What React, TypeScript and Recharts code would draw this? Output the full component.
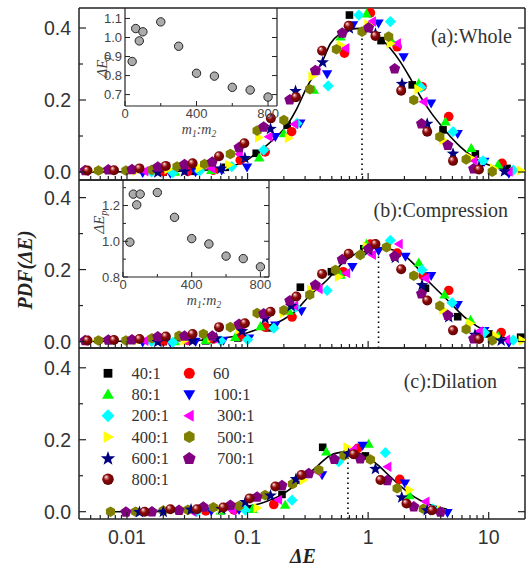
import React from 'react';
import { ComposedChart, Line, Scatter, XAxis, YAxis, ReferenceLine } from 'recharts';

type Pt = [number, number];

// series order follows the legend
const seriesNames = ['40:1', '60', '80:1', '100:1', '200:1', '300:1', '400:1', '500:1', '600:1', '700:1', '800:1'];
const seriesColors = ['#000000', '#ff0000', '#00ff00', '#0000ff', '#00ffff', '#ff00ff', '#ffff00', '#808000', '#000080', '#800080', '#800000'];
const seriesShapes = ['square', 'circle', 'up', 'down', 'diamond', 'left', 'right', 'hexagon', 'star', 'pentagon', 'sphere'];

// axis ticks
const xTicks = [
  0.005, 0.006, 0.007, 0.008, 0.009, 0.01, 0.02, 0.03, 0.04, 0.05, 0.06, 0.07, 0.08, 0.09,
  0.1, 0.2, 0.3, 0.4, 0.5, 0.6, 0.7, 0.8, 0.9, 1, 2, 3, 4, 5, 6, 7, 8, 9, 10,
];
const xMajor = [0.01, 0.1, 1, 10];
const yTicks = [0, 0.1, 0.2, 0.3, 0.4];
const yMajor = [0, 0.2, 0.4];

// (a) Whole
const whole40: Pt[] = [[0.02, 0.0], [0.036, 0.002], [0.0655, 0.013], [0.118, 0.052], [0.213, 0.13], [0.7, 0.436], [1.28, 0.365], [2.32, 0.242], [4.18, 0.117], [7.75, 0.05], [14.2, 0.01]];
const whole60: Pt[] = [[0.02, 0.001], [0.032, 0.002], [0.052, 0.005], [0.087, 0.033], [0.14, 0.056], [0.232, 0.112], [0.636, 0.33], [1.045, 0.442], [1.74, 0.348], [2.8, 0.237], [4.66, 0.154], [12.9, 0.024]];
const whole80: Pt[] = [[0.025, 0.0], [0.05, 0.005], [0.125, 0.04], [0.2, 0.107], [0.354, 0.228], [0.59, 0.376], [0.97, 0.44], [1.58, 0.362], [2.63, 0.246], [4.38, 0.14], [7.16, 0.066], [12, 0.02]];
const whole100: Pt[] = [[0.0135, -0.002], [0.0229, -0.004], [0.037, 0.0], [0.061, 0.005], [0.099, 0.013], [0.17, 0.098], [0.274, 0.135], [0.457, 0.272], [0.75, 0.408], [1.22, 0.413], [1.97, 0.319], [3.33, 0.191], [5.53, 0.106], [9.2, 0.029], [14.7, -0.004]];
const whole200: Pt[] = [[0.016, 0.0], [0.024, -0.002], [0.04, 0.003], [0.074, 0.015], [0.136, 0.061], [0.257, 0.135], [0.466, 0.239], [0.836, 0.436], [1.53, 0.418], [2.75, 0.235], [5.06, 0.112], [8.98, 0.031], [16, 0.005]];
const whole300: Pt[] = [[0.0045, 0.003], [0.014, 0.002], [0.03, 0.004], [0.05, 0.01], [0.085, 0.05], [0.15, 0.098], [0.245, 0.133], [0.373, 0.283], [0.65, 0.344], [1.08, 0.418], [1.74, 0.357], [2.89, 0.195], [7.5, 0.033], [14.7, 0.001]];
const whole400: Pt[] = [[0.0048, 0.003], [0.012, 0.003], [0.022, 0.008], [0.04, 0.012], [0.07, 0.02], [0.124, 0.096], [0.219, 0.094], [0.343, 0.265], [0.59, 0.353], [1.0, 0.41], [1.53, 0.357], [2.6, 0.23], [4.18, 0.089], [7, 0.04], [11, 0.01], [18.4, 0.004]];
const whole500: Pt[] = [[0.0058, 0.004], [0.0098, 0.004], [0.0161, 0.006], [0.026, 0.015], [0.044, 0.022], [0.072, 0.05], [0.12, 0.115], [0.2, 0.144], [0.328, 0.23], [0.546, 0.341], [0.89, 0.39], [1.48, 0.376], [2.39, 0.2], [3.93, 0.098], [6.5, 0.035], [10.7, 0.001]];
const whole600: Pt[] = [[0.018, 0.0], [0.03, 0.003], [0.06, 0.01], [0.095, 0.04], [0.155, 0.121], [0.25, 0.226], [0.42, 0.306], [0.7, 0.4], [1.15, 0.385], [1.91, 0.246], [3.09, 0.135], [5.06, 0.052], [8.3, 0.015], [13.5, 0.003]];
const whole700: Pt[] = [[0.0045, 0.005], [0.007, 0.007], [0.011, 0.008], [0.018, 0.015], [0.03, 0.022], [0.051, 0.029], [0.085, 0.069], [0.136, 0.126], [0.224, 0.202], [0.365, 0.283], [0.61, 0.387], [1.01, 0.402], [1.66, 0.288], [2.77, 0.135], [4.58, 0.075], [7.5, 0.01]];
const whole800: Pt[] = [[0.0047, 0.004], [0.0078, 0.005], [0.0127, 0.01], [0.021, 0.017], [0.035, 0.024], [0.058, 0.044], [0.094, 0.08], [0.156, 0.149], [0.252, 0.208], [0.415, 0.337], [0.69, 0.406], [1.15, 0.378], [1.88, 0.226], [3.09, 0.112], [5.06, 0.031], [8.3, 0.007]];
const wholeFit: Pt[] = [[0.004, 0.0], [0.0156, 0.001], [0.04, 0.004], [0.0676, 0.013], [0.099, 0.033], [0.118, 0.052], [0.145, 0.075], [0.176, 0.1], [0.213, 0.131], [0.257, 0.177], [0.312, 0.237], [0.377, 0.283], [0.415, 0.306], [0.487, 0.357], [0.589, 0.385], [0.713, 0.397], [0.863, 0.399], [1.045, 0.392], [1.265, 0.371], [1.53, 0.343], [1.85, 0.306], [2.24, 0.26], [2.72, 0.209], [3.29, 0.167], [3.98, 0.131], [4.82, 0.098], [5.83, 0.07], [7.06, 0.047], [8.55, 0.029], [10.35, 0.018], [12.5, 0.01], [18.4, 0.004]];
const wholePeak: Pt = [0.89, 0.398];

// (b) Compression
const comp40: Pt[] = [[0.02, 0.0], [0.045, 0.002], [0.083, 0.01], [0.15, 0.038], [0.274, 0.151], [0.496, 0.194], [0.92, 0.258], [2.99, 0.148], [5.53, 0.069], [10.05, 0.021], [18.4, 0.012]];
const comp60: Pt[] = [[0.02, 0.001], [0.032, 0.003], [0.052, 0.007], [0.088, 0.015], [0.14, 0.04], [0.234, 0.068], [0.62, 0.194], [1.045, 0.271], [1.74, 0.246], [2.86, 0.183], [4.66, 0.142], [12.7, 0.025]];
const comp80: Pt[] = [[0.025, 0.0], [0.045, 0.004], [0.079, 0.012], [0.128, 0.042], [0.22, 0.085], [0.59, 0.185], [0.97, 0.271], [2.63, 0.219], [4.3, 0.13], [7.06, 0.06], [12, 0.015]];
const comp100: Pt[] = [[0.0135, -0.002], [0.0229, -0.003], [0.037, 0.0], [0.063, 0.003], [0.103, 0.009], [0.17, 0.045], [0.28, 0.085], [0.74, 0.208], [1.22, 0.252], [2.04, 0.236], [3.33, 0.183], [5.53, 0.102], [9.2, 0.03], [14.7, -0.004]];
const comp200: Pt[] = [[0.016, 0.0], [0.024, -0.002], [0.06, 0.002], [0.1, 0.005], [0.165, 0.037], [0.25, 0.095], [0.457, 0.142], [0.86, 0.241], [1.53, 0.281], [2.8, 0.199], [4.97, 0.108], [9.2, 0.025], [16, 0.004]];
const comp300: Pt[] = [[0.0045, 0.003], [0.014, 0.002], [0.03, 0.004], [0.052, 0.009], [0.089, 0.033], [0.14, 0.074], [0.245, 0.099], [0.39, 0.146], [0.66, 0.19], [1.08, 0.241], [1.8, 0.271], [2.99, 0.176], [8.3, 0.028], [14, 0.005]];
const comp400: Pt[] = [[0.0048, 0.002], [0.012, 0.003], [0.03, 0.003], [0.05, 0.01], [0.085, 0.033], [0.2, 0.08], [0.335, 0.144], [0.57, 0.18], [0.97, 0.264], [4.18, 0.088], [7, 0.05], [11.5, 0.015], [19, 0.003]];
const comp500: Pt[] = [[0.0058, 0.003], [0.0098, 0.003], [0.0161, 0.009], [0.027, 0.016], [0.043, 0.021], [0.072, 0.04], [0.12, 0.079], [0.2, 0.087], [0.328, 0.13], [0.536, 0.199], [0.86, 0.241], [1.42, 0.262], [2.39, 0.183], [3.93, 0.099], [6.5, 0.034], [10.7, 0.003]];
const comp600: Pt[] = [[0.018, 0.0], [0.035, 0.003], [0.055, 0.01], [0.09, 0.03], [0.14, 0.065], [0.23, 0.1], [1.01, 0.255], [1.68, 0.234], [2.8, 0.158], [4.66, 0.069], [7.7, 0.02], [12.7, 0.004]];
const comp700: Pt[] = [[0.0045, 0.004], [0.007, 0.005], [0.011, 0.006], [0.018, 0.014], [0.03, 0.016], [0.051, 0.016], [0.085, 0.049], [0.136, 0.078], [0.224, 0.114], [0.365, 0.158], [0.61, 0.229], [1.01, 0.259], [1.66, 0.238], [2.77, 0.134], [4.58, 0.074], [7.5, 0.009]];
const comp800: Pt[] = [[0.0047, 0.003], [0.0078, 0.004], [0.0127, 0.007], [0.021, 0.014], [0.035, 0.021], [0.058, 0.04], [0.095, 0.051], [0.155, 0.083], [0.254, 0.125], [0.415, 0.188], [0.69, 0.244], [1.15, 0.271], [1.88, 0.201], [3.09, 0.114], [5.06, 0.031], [8.3, 0.007]];
const compFit: Pt[] = [[0.004, 0.0], [0.03, 0.002], [0.0767, 0.014], [0.128, 0.037], [0.2, 0.062], [0.241, 0.08], [0.332, 0.13], [0.457, 0.171], [0.6, 0.215], [0.76, 0.241], [0.95, 0.256], [1.19, 0.261], [1.5, 0.257], [1.85, 0.247], [2.4, 0.215], [3.09, 0.171], [3.85, 0.139], [4.82, 0.107], [6.2, 0.07], [8.03, 0.042], [11, 0.02], [14, 0.01], [18.4, 0.005]];
const compPeak: Pt = [1.22, 0.262];

// (c) Dilation
const dil40: Pt[] = [[0.06, 0.003], [0.105, 0.008], [0.193, 0.048], [0.42, 0.179], [0.95, 0.155]];
const dil60: Pt[] = [[0.045, 0.002], [0.077, 0.005], [0.165, 0.02], [0.82, 0.176], [1.83, 0.09]];
const dil80: Pt[] = [[0.06, 0.003], [0.11, 0.007], [0.205, 0.019], [0.45, 0.167], [1.01, 0.188], [2.2, 0.045]];
const dil100: Pt[] = [[0.05, 0.002], [0.085, 0.005], [0.415, 0.102], [0.9, 0.184], [2.02, 0.079], [4.55, -0.003]];
const dil200: Pt[] = [[0.038, 0.0], [0.096, 0.004], [0.234, 0.032], [0.57, 0.139], [1.39, 0.164], [3.45, 0.008]];
const dil300: Pt[] = [[0.035, 0.0], [0.075, 0.003], [0.18, 0.033], [0.38, 0.111], [0.75, 0.173], [1.45, 0.125], [3.0, 0.028]];
const dil400: Pt[] = [[0.03, 0.003], [0.06, 0.005], [0.12, 0.01], [0.29, 0.088], [0.67, 0.179], [2.2, 0.06], [4.0, 0.005]];
const dil500: Pt[] = [[0.0073, 0.0], [0.0118, 0.0], [0.02, 0.003], [0.032, 0.005], [0.052, 0.012], [0.085, 0.016], [0.14, 0.046], [0.236, 0.077], [0.39, 0.116], [0.63, 0.156], [1.045, 0.145], [1.74, 0.065], [2.87, 0.008]];
const dil600: Pt[] = [[0.0127, 0.0], [0.02, 0.001], [0.034, 0.007], [0.061, 0.009], [0.096, 0.028], [0.155, 0.046], [0.252, 0.092], [0.69, 0.162], [1.15, 0.12], [1.9, 0.041], [3.09, 0.005]];
const dil700: Pt[] = [[0.0098, 0.0], [0.0161, 0.001], [0.027, 0.005], [0.043, 0.014], [0.072, 0.019], [0.12, 0.042], [0.193, 0.074], [0.322, 0.107], [0.525, 0.147], [0.86, 0.148], [1.44, 0.088], [2.39, 0.015], [3.98, 0.0]];
const dil800: Pt[] = [[0.014, 0.0], [0.0229, 0.007], [0.038, 0.007], [0.063, 0.012], [0.104, 0.037], [0.17, 0.07], [0.28, 0.102], [0.76, 0.16], [1.265, 0.088], [2.08, 0.023], [3.39, 0.004]];
const dilFit: Pt[] = [[0.0075, 0.0], [0.03, 0.001], [0.056, 0.005], [0.09, 0.012], [0.128, 0.023], [0.2, 0.051], [0.292, 0.093], [0.38, 0.127], [0.487, 0.157], [0.59, 0.165], [0.69, 0.167], [0.83, 0.163], [0.98, 0.153], [1.2, 0.13], [1.53, 0.097], [1.9, 0.068], [2.39, 0.042], [3.28, 0.019], [4.52, 0.007]];
const dilPeak: Pt = [0.68, 0.167];

// insets: peak position vs mass ratio
const ratio = [40, 60, 80, 100, 200, 300, 400, 500, 600, 700, 800];
const peakWhole = [0.874, 1.047, 0.982, 1.03, 1.082, 0.954, 0.812, 0.797, 0.738, 0.724, 0.687];
const peakComp = [0.995, 1.264, 1.204, 1.264, 1.273, 1.134, 1.015, 0.985, 0.917, 0.903, 0.857];
const insetXTicks = [0, 200, 400, 600, 800];
const insetXLabels = [0, 400, 800];
const insetWholeYTicks = [0.7, 0.8, 0.9, 1.0, 1.1];
const insetCompYTicks = [0.8, 0.9, 1.0, 1.1, 1.2, 1.3];
const insetCompYLabels = [0.8, 1.0, 1.2];

const SANS = '"Liberation Sans", Arial, sans-serif';
const SERIF = '"Liberation Serif", "Times New Roman", serif';
const frame = { stroke: '#222', strokeWidth: 1.5 };
const thin = { stroke: '#222', strokeWidth: 1.2 };

function poly(cx: number, cy: number, r: number, n: number, rot: number) {
  const pts: string[] = [];
  for (let i = 0; i < n; i++) {
    const a = rot + (i * 2 * Math.PI) / n;
    pts.push(`${cx + r * Math.cos(a)},${cy + r * Math.sin(a)}`);
  }
  return pts.join(' ');
}

function starPts(cx: number, cy: number, ro: number, ri: number) {
  const pts: string[] = [];
  for (let i = 0; i < 10; i++) {
    const a = -Math.PI / 2 + (i * Math.PI) / 5;
    const r = i % 2 === 0 ? ro : ri;
    pts.push(`${cx + r * Math.cos(a)},${cy + r * Math.sin(a)}`);
  }
  return pts.join(' ');
}

function Marker({ shape, color, cx, cy, k = 1 }: any) {
  if (cx == null || cy == null) return null;
  switch (shape) {
    case 'square':
      return <rect x={cx - 3.8 * k} y={cy - 3.8 * k} width={7.6 * k} height={7.6 * k} fill={color} />;
    case 'circle':
      return <circle cx={cx} cy={cy} r={4.8 * k} fill={color} />;
    case 'up':
      return <polygon points={poly(cx, cy + 0.8 * k, 6 * k, 3, -Math.PI / 2)} fill={color} />;
    case 'down':
      return <polygon points={poly(cx, cy - 0.8 * k, 6 * k, 3, Math.PI / 2)} fill={color} />;
    case 'left':
      return <polygon points={poly(cx + 0.8 * k, cy, 6 * k, 3, Math.PI)} fill={color} />;
    case 'right':
      return <polygon points={poly(cx - 0.8 * k, cy, 6 * k, 3, 0)} fill={color} />;
    case 'diamond':
      return <polygon points={poly(cx, cy, 5.6 * k, 4, -Math.PI / 2)} fill={color} />;
    case 'hexagon':
      return <polygon points={poly(cx, cy, 5.3 * k, 6, -Math.PI / 2)} fill={color} />;
    case 'pentagon':
      return <polygon points={poly(cx, cy + 0.4 * k, 5.8 * k, 5, -Math.PI / 2)} fill={color} />;
    case 'star':
      return <polygon points={starPts(cx, cy + 0.5 * k, 6.6 * k, 2.7 * k)} fill={color} />;
    case 'sphere':
      return <circle cx={cx} cy={cy} r={5 * k} fill="url(#ballGrad)" />;
    default:
      return null;
  }
}

const XTick = ({ x, y, payload, showLabel }: any) => {
  const v = payload.value;
  const major = xMajor.includes(v);
  return (
    <g>
      <line x1={x} x2={x} y1={y} y2={y - (major ? 7 : 4)} stroke="#222" strokeWidth={1.2} />
      {showLabel && major && (
        <text x={x} y={y + 24.5} textAnchor="middle" fontSize={19.5} fontFamily={SANS} fill="#333">
          {String(v)}
        </text>
      )}
    </g>
  );
};

const YTickL = ({ x, y, payload }: any) => {
  const v = payload.value;
  const major = yMajor.includes(v);
  return (
    <g>
      <line x1={x} x2={x + (major ? 7 : 4)} y1={y} y2={y} stroke="#222" strokeWidth={1.2} />
      {major && (
        <text x={x - 8} y={y} dy="0.36em" textAnchor="end" fontSize={19.5} fontFamily={SANS} fill="#333">
          {v.toFixed(1)}
        </text>
      )}
    </g>
  );
};

const YTickR = ({ x, y, payload }: any) => {
  const major = yMajor.includes(payload.value);
  return <line x1={x} x2={x - (major ? 7 : 4)} y1={y} y2={y} stroke="#222" strokeWidth={1.2} />;
};

// plot area: x 79..525; axes take 1px each, so margins are one less
function Panel({ top, height, mt, mb, yDomain, sets, fit, peak, showX, children }: any) {
  const fitData = fit.map(([x, y]: Pt) => ({ x, y }));
  const peakData = [{ x: peak[0], y: yDomain[0] }, { x: peak[0], y: peak[1] }];
  return (
    <div style={{ position: 'absolute', left: 0, top }}>
      <ComposedChart width={527} height={height} margin={{ top: mt, right: 1, bottom: mb - 1, left: 78 }}>
        <XAxis dataKey="x" type="number" scale="log" domain={[0.004, 20]} allowDataOverflow ticks={xTicks} interval={0}
          height={1} tickSize={0} tickMargin={0} tickLine={false} axisLine={frame}
          tick={(p: any) => <XTick {...p} showLabel={showX} />} />
        <YAxis dataKey="y" type="number" domain={yDomain} allowDataOverflow ticks={yTicks} interval={0}
          width={1} tickSize={0} tickMargin={0} tickLine={false} axisLine={frame}
          tick={(p: any) => <YTickL {...p} />} />
        <YAxis yAxisId="r" orientation="right" type="number" domain={yDomain} allowDataOverflow ticks={yTicks} interval={0}
          width={1} tickSize={0} tickMargin={0} tickLine={false} axisLine={frame}
          tick={(p: any) => <YTickR {...p} />} />
        <ReferenceLine y={yDomain[1]} stroke="#222" strokeWidth={1.5} />
        {sets.map((s: Pt[], i: number) => (
          <Scatter key={seriesNames[i]} name={seriesNames[i]} data={s.map(([x, y]) => ({ x, y }))} fill={seriesColors[i]}
            isAnimationActive={false}
            shape={(p: any) => <Marker shape={seriesShapes[i]} color={seriesColors[i]} cx={p.cx} cy={p.cy} />} />
        ))}
        <Line data={fitData} dataKey="y" type="monotone" stroke="#000" strokeWidth={1.6} dot={false} activeDot={false} isAnimationActive={false} />
        <Line data={peakData} dataKey="y" type="linear" stroke="#000" strokeWidth={1.6} strokeDasharray="1.6 3.4" dot={false} activeDot={false} isAnimationActive={false} />
        {children}
      </ComposedChart>
    </div>
  );
}

function Inset({ left, top, width, height, margin, yDomain, yTicksIn, yLabels, peaks, yl, ml }: any) {
  const data = ratio.map((r, i) => ({ x: r, y: peaks[i] }));
  return (
    <div style={{ position: 'absolute', left, top }}>
      <ComposedChart width={width} height={height} margin={margin}>
        <XAxis dataKey="x" type="number" domain={[0, 850]} allowDataOverflow ticks={insetXTicks} interval={0}
          height={1} tickSize={0} tickMargin={0} tickLine={false} axisLine={thin}
          tick={({ x, y, payload }: any) => {
            const major = insetXLabels.includes(payload.value);
            return (
              <g>
                <line x1={x} x2={x} y1={y} y2={y - (major ? 5 : 3)} stroke="#222" strokeWidth={1} />
                {major && (
                  <text x={x} y={y + 12} textAnchor="middle" fontSize={13} fontFamily={SANS} fill="#444">{payload.value}</text>
                )}
              </g>
            );
          }} />
        <YAxis dataKey="y" type="number" domain={yDomain} allowDataOverflow ticks={yTicksIn} interval={0}
          width={1} tickSize={0} tickMargin={0} tickLine={false} axisLine={thin}
          tick={({ x, y, payload }: any) => {
            const major = yLabels.includes(payload.value);
            return (
              <g>
                <line x1={x} x2={x + (major ? 5 : 3)} y1={y} y2={y} stroke="#222" strokeWidth={1} />
                {major && (
                  <text x={x - 3} y={y} dy="0.36em" textAnchor="end" fontSize={13} fontFamily={SANS} fill="#444">{payload.value.toFixed(1)}</text>
                )}
              </g>
            );
          }} />
        <YAxis yAxisId="r" orientation="right" type="number" domain={yDomain} allowDataOverflow ticks={yTicksIn} interval={0}
          width={1} tickSize={0} tickMargin={0} tickLine={false} axisLine={thin}
          tick={({ x, y, payload }: any) => (
            <line x1={x} x2={x - (yLabels.includes(payload.value) ? 5 : 3)} y1={y} y2={y} stroke="#222" strokeWidth={1} />
          )} />
        <Scatter data={data} isAnimationActive={false}
          shape={(p: any) => <circle cx={p.cx} cy={p.cy} r={4.2} fill="#ababab" stroke="#222" strokeWidth={1} />} />
        <text transform={`rotate(-90 ${yl[0]} ${yl[1]})`} x={yl[0]} y={yl[1]} textAnchor="middle" fontSize={15} fontFamily={SERIF} fontStyle="italic" fill="#444">
          ΔE<tspan dy={3} fontSize={10}>p</tspan>
        </text>
        <text x={ml[0]} y={ml[1]} textAnchor="middle" fontSize={14} fontFamily={SERIF} fontStyle="italic" fill="#444">
          m<tspan dy={3} fontSize={9.5}>1</tspan><tspan dy={-3}>:m</tspan><tspan dy={3} fontSize={9.5}>2</tspan>
        </text>
      </ComposedChart>
    </div>
  );
}

export default function App() {
  const wholeSets = [whole40, whole60, whole80, whole100, whole200, whole300, whole400, whole500, whole600, whole700, whole800];
  const compSets = [comp40, comp60, comp80, comp100, comp200, comp300, comp400, comp500, comp600, comp700, comp800];
  const dilSets = [dil40, dil60, dil80, dil100, dil200, dil300, dil400, dil500, dil600, dil700, dil800];
  return (
    <div style={{ position: 'absolute', left: 0, top: 0, width: 527, height: 565, background: '#fff', fontFamily: SANS }}>
      <svg width={0} height={0} style={{ position: 'absolute' }}>
        <defs>
          <radialGradient id="ballGrad" cx="0.45" cy="0.45" r="0.6" fx="0.33" fy="0.28">
            <stop offset="0" stopColor="#ffffff" />
            <stop offset="0.18" stopColor="#d88080" />
            <stop offset="0.45" stopColor="#8c0a0a" />
            <stop offset="1" stopColor="#5a0000" />
          </radialGradient>
        </defs>
      </svg>

      <Panel top={0} height={190} mt={8} mb={10} yDomain={[-0.0222, 0.4556]} sets={wholeSets} fit={wholeFit} peak={wholePeak}>
        <text x={512} y={43} textAnchor="end" fontSize={20} fontFamily={SERIF} fill="#333">(a):Whole</text>
      </Panel>

      <Panel top={170} height={188} mt={10} mb={10} yDomain={[-0.018, 0.449]} sets={compSets} fit={compFit} peak={compPeak}>
        <text x={508} y={47} textAnchor="end" fontSize={20} fontFamily={SERIF} fill="#333">(b):Compression</text>
        <text transform="rotate(-90 32 100)" x={32} y={100} textAnchor="middle" fontSize={20} fontFamily={SERIF}
          fontStyle="italic" fontWeight="bold" fill="#222">PDF(ΔE)</text>
      </Panel>

      <Panel top={338} height={227} mt={10} mb={46} yDomain={[-0.0203, 0.455]} sets={dilSets} fit={dilFit} peak={dilPeak} showX>
        <text x={497} y={50} textAnchor="end" fontSize={20} fontFamily={SERIF} fill="#333">(c):Dilation</text>
        <text x={303} y={224.5} textAnchor="middle" fontSize={20} fontFamily={SERIF} fontStyle="italic" fontWeight="bold" fill="#222">ΔE</text>
        {seriesNames.map((name, i) => {
          const row = Math.floor(i / 2);
          const col = i % 2;
          const cy = 35.3 + 21.2 * row;
          const mx = col === 0 ? 108 : 189.3;
          const tx = col === 0 ? 131.5 : row < 2 ? 213 : 217;
          return (
            <g key={name}>
              <Marker shape={seriesShapes[i]} color={seriesColors[i]} cx={mx} cy={cy} k={1.15} />
              <text x={tx} y={cy + 5.6} fontSize={16.5} fontFamily={SERIF} fill="#333">{name}</text>
            </g>
          );
        })}
      </Panel>

      <Inset left={85} top={0} width={200} height={140} margin={{ top: 8, left: 39, right: 7, bottom: 33 }}
        yDomain={[0.64, 1.155]} yTicksIn={insetWholeYTicks} yLabels={insetWholeYTicks} peaks={peakWhole}
        yl={[22, 66]} ml={[114, 133.5]} />

      <Inset left={85} top={170} width={200} height={145} margin={{ top: 10, left: 37, right: 15, bottom: 37 }}
        yDomain={[0.8, 1.343]} yTicksIn={insetCompYTicks} yLabels={insetCompYLabels} peaks={peakComp}
        yl={[19, 52]} ml={[119, 135]} />
    </div>
  );
}
